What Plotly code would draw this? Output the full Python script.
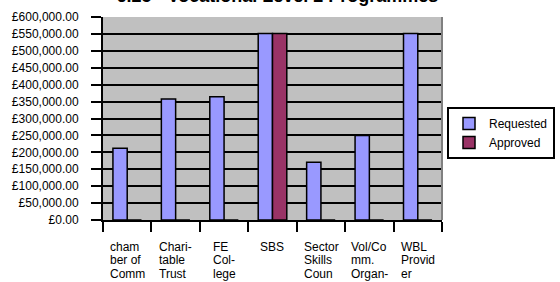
import plotly.graph_objects as go

title = "6.25 - Vocational Level 2 Programmes"
categories = ["chamber of Comm", "Charitable Trust", "FE College", "SBS",
              "Sector Skills Coun", "Vol/Comm. Organ-", "WBL Provider"]
label_lines = [["cham", "ber of", "Comm"],
               ["Chari-", "table", "Trust"],
               ["FE", "Col-", "lege"],
               ["SBS"],
               ["Sector", "Skills", "Coun"],
               ["Vol/Co", "mm.", "Organ-"],
               ["WBL", "Provid", "er"]]
requested = [212000, 358000, 364000, 551000, 170500, 250000, 551000]
approved = [0, 0, 0, 551000, 0, 0, 0]
y_ticks = list(range(0, 600001, 50000))
y_labels = ["£{:,.2f}".format(v) for v in y_ticks]

FONT = "Liberation Sans, Arial, sans-serif"
FS = 12

# approximate Arial advance widths (1/1000 em) for centring left-aligned label blocks
W = {'a': 556, 'b': 556, 'c': 500, 'd': 556, 'e': 556, 'f': 278, 'g': 556, 'h': 556,
     'i': 222, 'j': 222, 'k': 500, 'l': 222, 'm': 833, 'n': 556, 'o': 556, 'p': 556,
     'r': 333, 's': 500, 't': 278, 'u': 556, 'v': 500, 'w': 722, 'x': 500, 'y': 500,
     ' ': 278, '-': 333, '.': 278, '/': 278, 'C': 722, 'F': 611, 'S': 667, 'T': 611,
     'B': 667, 'W': 944, 'L': 556, 'E': 667, 'P': 667, 'V': 667, 'O': 778}


def text_w(s):
    return sum(W.get(ch, 556) for ch in s) * FS / 1000.0


fig = go.Figure()
fig.add_bar(x=categories, y=requested, name="Requested",
            marker=dict(color="#9999FF", line=dict(color="black", width=1.5)))
fig.add_bar(x=categories, y=approved, name="Approved",
            marker=dict(color="#993366", line=dict(color="black", width=1.5)))

LINE_STEP = 13.7
FIRST_CENTER = 26.5  # px below the x axis
annotations = []
for i, lines in enumerate(label_lines):
    block_w = max(text_w(ln) for ln in lines)
    for k, ln in enumerate(lines):
        annotations.append(dict(
            x=categories[i], y=0, xref="x", yref="paper",
            text=ln, showarrow=False, align="left",
            xanchor="left", yanchor="middle",
            xshift=-block_w / 2 - 2,
            yshift=-(FIRST_CENTER + k * LINE_STEP),
            font=dict(family=FONT, size=FS, color="black")))

fig.update_layout(
    width=560, height=282,
    margin=dict(l=103, r=118, t=17, b=62, pad=0, autoexpand=False),
    paper_bgcolor="white", plot_bgcolor="#C0C0C0",
    barmode="group", bargap=0.41, bargroupgap=0,
    font=dict(family=FONT, size=FS, color="black"),
    title=dict(text="<b>" + title + "</b>", x=0.4955, xref="container", xanchor="center",
               y=1 - 2.0 / 282, yref="container", yanchor="bottom",
               font=dict(family=FONT, size=18, color="black")),
    legend=dict(x=447 / 560, xref="container", xanchor="left",
                y=1 - 133 / 282, yref="container", yanchor="middle",
                bgcolor="white", bordercolor="black", borderwidth=2,
                font=dict(family=FONT, size=FS, color="black"),
                tracegroupgap=0),
    annotations=annotations,
    showlegend=True,
)
fig.update_xaxes(type="category", showticklabels=False, tickson="boundaries",
                 ticks="outside", ticklen=10, tickwidth=1.5, tickcolor="black",
                 showline=True, linecolor="black", linewidth=2, showgrid=False,
                 automargin=False)
fig.update_yaxes(range=[0, 600000], tickvals=y_ticks, ticktext=y_labels,
                 ticks="outside", ticklen=10, tickwidth=2, tickcolor="black",
                 showgrid=True, gridcolor="black", gridwidth=2,
                 showline=True, linecolor="black", linewidth=2, zeroline=False,
                 ticklabelstandoff=10, automargin=False,
                 tickfont=dict(family=FONT, size=FS, color="black"))
fig.add_shape(type="line", xref="paper", yref="paper", x0=1, x1=1, y0=0, y1=1,
              line=dict(color="#808080", width=2))

fig.write_html("out.html", config={"displayModeBar": False},
               post_script="document.body.style.margin='0';document.body.style.overflow='hidden';")
